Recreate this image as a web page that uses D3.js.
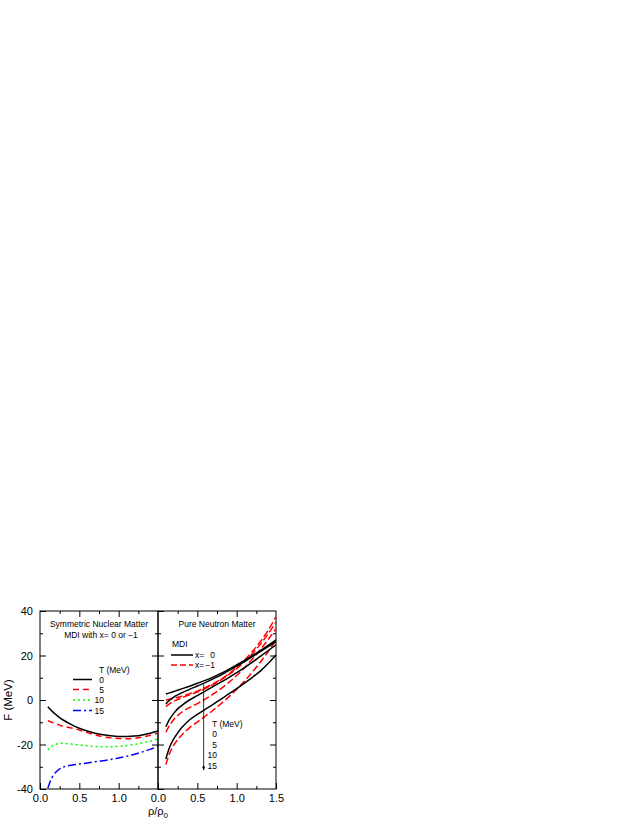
<!DOCTYPE html>
<html>
<head>
<meta charset="utf-8">
<script src="https://cdn.jsdelivr.net/npm/d3@7"></script>
<style>
  html, body { margin: 0; padding: 0; background: #fff; }
  svg { display: block; font-family: "Liberation Sans", Arial, sans-serif; }
</style>
</head>
<body>
<svg id="chart" width="638" height="825"></svg>
<script>
// density grid rho/rho0
const rho = [0.1, 0.15, 0.2, 0.25, 0.3, 0.4, 0.5, 0.6, 0.7, 0.8, 0.9, 1.0, 1.1, 1.2, 1.3, 1.4, 1.5];

// Symmetric nuclear matter, F (MeV)
const symT0  = [-3.0, -4.9, -6.5, -7.9, -9.1, -11.1, -12.7, -13.9, -14.9, -15.6, -16.1, -16.4, -16.4, -16.2, -15.7, -14.9, -13.9];
const symT5  = [-9.3, -10.0, -10.7, -11.3, -11.9, -12.6, -13.5, -14.6, -15.7, -16.5, -17.0, -17.3, -17.4, -17.2, -16.7, -15.9, -14.8];
const symT10 = [-22.5, -20.8, -19.9, -19.5, -19.5, -19.8, -20.2, -20.6, -20.9, -21.0, -21.0, -20.8, -20.5, -20.0, -19.3, -18.5, -17.5];
const symT15 = [-39.6, -35.0, -32.5, -31.0, -30.1, -29.3, -28.8, -28.3, -27.8, -27.3, -26.7, -26.1, -25.3, -24.4, -23.3, -22.2, -20.8];

// Pure neutron matter, x = 0 (solid black)
const pnmX0T0  = [2.7, 3.2, 3.8, 4.4, 5.0, 6.2, 7.5, 8.8, 10.3, 12.0, 13.8, 15.8, 17.8, 20.0, 22.2, 24.6, 27.0];
const pnmX0T5  = [-1.8, 0.0, 1.3, 2.3, 3.2, 4.8, 6.3, 7.8, 9.5, 11.2, 13.2, 15.2, 17.3, 19.5, 21.8, 24.0, 26.2];
const pnmX0T10 = [-12.0, -8.5, -6.0, -4.0, -2.5, 0.0, 2.0, 4.0, 6.0, 8.0, 10.1, 12.3, 14.6, 17.0, 19.6, 22.2, 24.8];
const pnmX0T15 = [-26.5, -21.0, -17.5, -14.8, -12.5, -9.0, -6.5, -4.2, -2.0, 0.4, 2.7, 5.1, 7.6, 10.2, 13.0, 16.4, 20.2];

// Pure neutron matter, x = -1 (dashed red)
const pnmXm1T0  = [0.0, 0.4, 0.8, 1.2, 1.7, 2.8, 4.0, 5.5, 7.3, 9.3, 11.8, 14.7, 18.0, 21.8, 26.2, 31.3, 37.5];
const pnmXm1T5  = [-3.0, -1.6, -0.6, 0.2, 1.0, 2.3, 3.6, 5.1, 6.9, 9.0, 11.4, 14.1, 17.2, 20.8, 25.0, 29.7, 35.0];
const pnmXm1T10 = [-14.5, -11.2, -8.8, -7.0, -5.5, -3.4, -1.6, 0.4, 2.6, 5.1, 7.9, 11.0, 14.5, 18.4, 22.6, 27.2, 32.0];
const pnmXm1T15 = [-29.0, -23.8, -20.3, -17.8, -15.8, -12.5, -9.9, -7.3, -4.6, -1.7, 1.4, 4.8, 8.5, 12.6, 17.0, 21.7, 27.0];

// ticks / labels
const temps = ["0", "5", "10", "15"];
const xTicksLeft = [0, 0.5, 1.0];
const xTicksRight = [0, 0.5, 1.0, 1.5];
const xMinor = [0.25, 0.75, 1.25];
const yTicks = [-40, -20, 0, 20, 40];
const yMinor = [-30, -10, 10, 30];
const arrowRho = 0.58, arrowFrom = 7, arrowTo = -31.5;

const svg = d3.select("#chart");
const xL = d3.scaleLinear().domain([0, 1.5]).range([40, 158]);
const xR = d3.scaleLinear().domain([0, 1.5]).range([158, 276]);
const y = d3.scaleLinear().domain([-40, 40]).range([789, 611]);

const fmt = d3.format(".1f");
const fontTick = "11px";

function frame(x, showY, xt) {
  const g = svg.append("g");
  g.append("g").attr("transform", `translate(0,${y(-40)})`)
    .call(d3.axisBottom(x).tickValues(xt).tickSize(-6).tickPadding(5).tickFormat(fmt))
    .call(a => a.select(".domain").remove());
  g.append("g").attr("transform", `translate(0,${y(-40)})`)
    .call(d3.axisBottom(x).tickValues(xMinor).tickSize(-3).tickFormat(""))
    .call(a => a.select(".domain").remove());
  g.append("g").attr("transform", `translate(0,${y(40)})`)
    .call(d3.axisTop(x).tickValues([0.5, 1.0]).tickSize(-6).tickFormat(""))
    .call(a => a.select(".domain").remove());
  g.append("g").attr("transform", `translate(0,${y(40)})`)
    .call(d3.axisTop(x).tickValues(xMinor).tickSize(-3).tickFormat(""))
    .call(a => a.select(".domain").remove());
  const la = d3.axisLeft(y).tickValues(yTicks).tickSize(-6).tickPadding(7);
  if (!showY) la.tickFormat("");
  else la.tickFormat(d => d < 0 ? "-" + Math.abs(d) : d);
  g.append("g").attr("transform", `translate(${x(0)},0)`).call(la)
    .call(a => a.select(".domain").remove());
  g.append("g").attr("transform", `translate(${x(0)},0)`)
    .call(d3.axisLeft(y).tickValues(yMinor).tickSize(-3).tickFormat(""))
    .call(a => a.select(".domain").remove());
  g.append("g").attr("transform", `translate(${x(1.5)},0)`)
    .call(d3.axisRight(y).tickValues([-20, 0, 20]).tickSize(-6).tickFormat(""))
    .call(a => a.select(".domain").remove());
  g.append("g").attr("transform", `translate(${x(1.5)},0)`)
    .call(d3.axisRight(y).tickValues(yMinor).tickSize(-3).tickFormat(""))
    .call(a => a.select(".domain").remove());
  g.selectAll("text").attr("font-size", fontTick).attr("font-family", '"Liberation Sans", Arial, sans-serif').attr("fill", "#000");
  g.selectAll("line").attr("stroke", "#000").attr("stroke-width", 1);
  g.append("rect").attr("x", x(0)).attr("y", y(40))
    .attr("width", x(1.5) - x(0)).attr("height", y(-40) - y(40))
    .attr("fill", "none").attr("stroke", "#000").attr("stroke-width", 1);
}

frame(xL, true, xTicksLeft);
frame(xR, false, xTicksRight);

function drawCurve(x, vals, color, dash, width) {
  const line = d3.line().x((d, i) => x(rho[i])).y(d => y(d)).curve(d3.curveCatmullRom.alpha(0.5));
  svg.append("path").datum(vals).attr("d", line)
    .attr("fill", "none").attr("stroke", color).attr("stroke-width", width || 1.5)
    .attr("stroke-dasharray", dash || null);
}

const styles = [
  { color: "#000000", dash: null },
  { color: "#ff0000", dash: "6,4" },
  { color: "#00ff00", dash: "2,3" },
  { color: "#0000ff", dash: "8,3,2,3" }
];

[symT0, symT5, symT10, symT15].forEach((s, i) => drawCurve(xL, s, styles[i].color, styles[i].dash));

[pnmXm1T0, pnmXm1T5, pnmXm1T10, pnmXm1T15].forEach(s => drawCurve(xR, s, "#ff0000", "7,3"));
[pnmX0T0, pnmX0T5, pnmX0T10, pnmX0T15].forEach(s => drawCurve(xR, s, "#000000", null));

const fs = "8.5px";
svg.append("text").attr("x", 99).attr("y", 627).attr("text-anchor", "middle").attr("font-size", fs).text("Symmetric Nuclear Matter");
svg.append("text").attr("x", 101).attr("y", 637.5).attr("text-anchor", "middle").attr("font-size", fs).text("MDI with x= 0 or \u22121");
svg.append("text").attr("x", 99).attr("y", 673).attr("font-size", fs).text("T (MeV)");
const legY = [679.5, 689.5, 700, 710.5];
temps.forEach((t, i) => {
  svg.append("line").attr("x1", 73).attr("x2", 92).attr("y1", legY[i]).attr("y2", legY[i])
    .attr("stroke", styles[i].color).attr("stroke-width", 1.5).attr("stroke-dasharray", styles[i].dash);
  svg.append("text").attr("x", 104).attr("y", legY[i] + 3).attr("text-anchor", "end").attr("font-size", fs).text(t);
});

svg.append("text").attr("x", 217).attr("y", 627).attr("text-anchor", "middle").attr("font-size", fs).text("Pure Neutron Matter");
svg.append("text").attr("x", 172).attr("y", 647).attr("font-size", fs).text("MDI");
svg.append("line").attr("x1", 171).attr("x2", 193).attr("y1", 655).attr("y2", 655).attr("stroke", "#000").attr("stroke-width", 1.5);
svg.append("line").attr("x1", 171).attr("x2", 193).attr("y1", 665).attr("y2", 665).attr("stroke", "#ff0000").attr("stroke-width", 1.5).attr("stroke-dasharray", "6,3");
svg.append("text").attr("x", 195).attr("y", 658).attr("font-size", fs).text("x=");
svg.append("text").attr("x", 215).attr("y", 658).attr("text-anchor", "end").attr("font-size", fs).text("0");
svg.append("text").attr("x", 195).attr("y", 668).attr("font-size", fs).text("x=");
svg.append("text").attr("x", 215).attr("y", 668).attr("text-anchor", "end").attr("font-size", fs).text("\u22121");

svg.append("defs").append("marker").attr("id", "ah").attr("viewBox", "0 0 10 10")
  .attr("refX", 9).attr("refY", 5).attr("markerWidth", 5).attr("markerHeight", 5).attr("orient", "auto")
  .append("path").attr("d", "M0,1 L10,5 L0,9 Z").attr("fill", "#000");
svg.append("line").attr("x1", xR(arrowRho)).attr("x2", xR(arrowRho))
  .attr("y1", y(arrowFrom)).attr("y2", y(arrowTo))
  .attr("stroke", "#000").attr("stroke-width", 0.8).attr("marker-end", "url(#ah)");

svg.append("text").attr("x", 212).attr("y", 726.5).attr("font-size", fs).text("T (MeV)");
const legY2 = [736.5, 747.5, 758, 769];
temps.forEach((t, i) => {
  svg.append("text").attr("x", 217).attr("y", legY2[i]).attr("text-anchor", "end").attr("font-size", fs).text(t);
});

svg.append("text").attr("transform", "translate(12,700) rotate(-90)").attr("text-anchor", "middle")
  .attr("font-size", "11.5px").text("F (MeV)");
const xt = svg.append("text").attr("x", 158).attr("y", 815).attr("text-anchor", "middle").attr("font-size", "11px");
xt.append("tspan").text("\u03C1/\u03C1");
xt.append("tspan").attr("font-size", "8px").attr("dy", 3).text("0");
</script>
</body>
</html>
